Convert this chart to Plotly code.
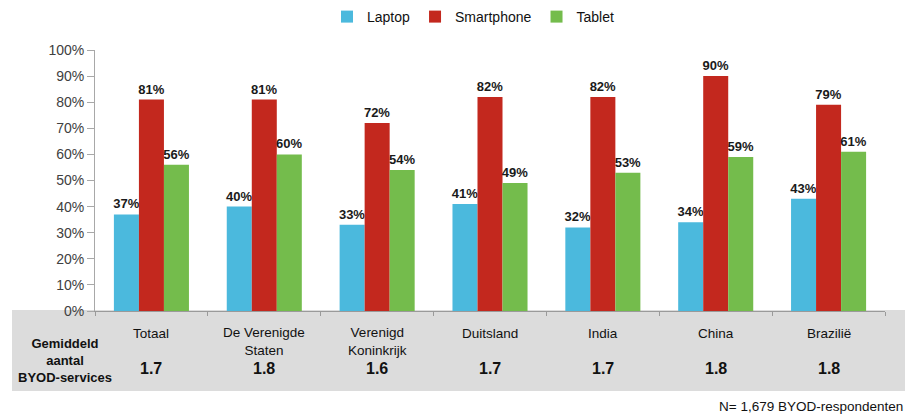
import plotly.graph_objects as go

categories = ["Totaal", "De Verenigde<br>Staten", "Verenigd<br>Koninkrijk", "Duitsland", "India", "China", "Brazilië"]
laptop = [37, 40, 33, 41, 32, 34, 43]
smartphone = [81, 81, 72, 82, 82, 90, 79]
tablet = [56, 60, 54, 49, 53, 59, 61]
avg_services = ["1.7", "1.8", "1.6", "1.7", "1.7", "1.8", "1.8"]
series_names = ["Laptop", "Smartphone", "Tablet"]
colors = ["#4BB9DD", "#C3281E", "#74BC4C"]
row_label = "Gemiddeld<br>aantal<br>BYOD-services"
footnote = "N= 1,679 BYOD-respondenten"

FONT = "Liberation Sans, Arial, sans-serif"
W, H = 912, 415
ML, MR, MT, MB = 95, 27, 50, 104
PW = W - ML - MR
PH = H - MT - MB


def py(pix):
    return (H - MB - pix) / PH


def px(pix):
    return (pix - ML) / PW


fig = go.Figure()
for name, vals, col in zip(series_names, [laptop, smartphone, tablet], colors):
    fig.add_trace(go.Bar(
        name=name, x=categories, y=vals, marker=dict(color=col, line=dict(width=0)),
        text=[f"{v}%" for v in vals], texttemplate="%{text}", textposition="outside",
        cliponaxis=False, constraintext="none",
        textfont=dict(family=FONT, size=13, color="#1a1a1a", weight="bold"),
        hoverinfo="skip",
    ))

annotations = []
CAT_SIZE = 13.5
for cat, v in zip(categories, avg_services):
    n = len(cat.split("<br>"))
    center = 333 + (n - 1) * CAT_SIZE * 1.3 / 2
    annotations.append(dict(
        x=cat, xref="x", y=py(center), yref="paper", text=cat, showarrow=False,
        xanchor="center", yanchor="middle", align="center",
        font=dict(family=FONT, size=CAT_SIZE, color="#111111")))
    annotations.append(dict(
        x=cat, xref="x", y=py(368), yref="paper", text=v, showarrow=False,
        xanchor="center", yanchor="middle",
        font=dict(family=FONT, size=16, color="#111111", weight="bold")))

annotations.append(dict(
    x=px(65), xref="paper", y=py(360), yref="paper", text=row_label, showarrow=False,
    xanchor="center", yanchor="middle", align="center",
    font=dict(family=FONT, size=13, color="#111111", weight="bold")))

annotations.append(dict(
    x=px(905), xref="paper", y=py(406), yref="paper", text=footnote,
    showarrow=False, xanchor="right", yanchor="middle",
    font=dict(family=FONT, size=13.5, color="#111111")))

fig.update_layout(
    width=W, height=H,
    margin=dict(l=ML, r=MR, t=MT, b=MB, autoexpand=False),
    paper_bgcolor="white", plot_bgcolor="rgba(0,0,0,0)",
    barmode="group", bargap=0.335, bargroupgap=0,
    showlegend=True,
    legend=dict(orientation="h", x=px(473), xanchor="center", y=py(17), yanchor="middle",
                font=dict(family=FONT, size=14, color="#111111"), itemwidth=30,
                traceorder="normal"),
    annotations=annotations,
    shapes=[dict(type="rect", xref="paper", yref="paper",
                 x0=px(12), x1=px(905), y0=py(391), y1=py(310),
                 fillcolor="#DCDCDC", line=dict(width=0), layer="below")],
    xaxis=dict(showticklabels=False, showline=True, linecolor="#9A9A9A", linewidth=1,
               ticks="outside", ticklen=4, tickcolor="#9A9A9A", tickson="boundaries",
               showgrid=False, zeroline=False, fixedrange=True),
    yaxis=dict(range=[0, 100], dtick=10, ticksuffix="%", showline=True, linecolor="#A8A8A8",
               linewidth=1, ticks="outside", ticklen=7, tickcolor="#A8A8A8", showgrid=False,
               zeroline=False, tickfont=dict(family=FONT, size=14, color="#404040"), fixedrange=True),
    font=dict(family=FONT),
)

fig.write_html("out.html", config={"displayModeBar": False},
               post_script="document.body.style.margin='0';document.body.style.overflow='hidden';")
